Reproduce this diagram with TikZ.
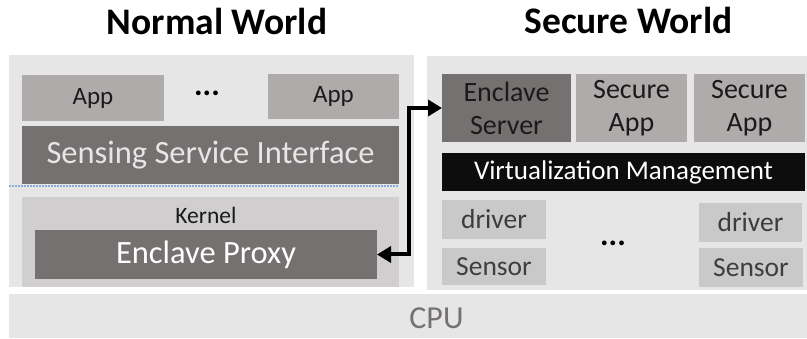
\documentclass[tikz,border=0pt]{standalone}
\usepackage{fontspec}
\setmainfont{Carlito}
\usetikzlibrary{arrows.meta}

\definecolor{panelgray}{HTML}{E6E6E6}
\definecolor{appgray}{HTML}{AFABAB}
\definecolor{darkbox}{HTML}{767171}
\definecolor{kernelgray}{HTML}{D0CECE}
\definecolor{drvgray}{HTML}{C9C9C9}
\definecolor{lighttext}{HTML}{E7E6E6}
\definecolor{inktext}{HTML}{1A1A1A}
\definecolor{softtext}{HTML}{3F3F3F}
\definecolor{divider}{HTML}{8FAADC}

\newcommand{\fsz}[2][0]{\fontsize{#2}{\ifnum#1=0 #2\else #1\fi}\selectfont}

\tikzset{
  block/.style={rectangle, inner sep=0pt, outer sep=0pt, align=center},
  panel/.style={block, fill=panelgray},
  appbox/.style={block, fill=appgray, text=inktext, font=\fsz{25}},
  twoline/.style={font=\fsz[33]{28}},
  darkblock/.style={block, fill=darkbox, text=lighttext, font=\fsz{32.5}},
  hwbox/.style={block, fill=drvgray, font=\fsz{27.5}},
  title/.style={inner sep=0pt, anchor=base, font=\bfseries\fsz{37.5}},
  dots/.style={inner sep=0pt, anchor=base, font=\bfseries\fsz{32}},
  link/.style={line width=4pt, {Triangle[length=14pt,width=16pt]}-{Triangle[length=14pt,width=16pt]}},
}

\begin{document}
\begin{tikzpicture}[x=1pt, y=-1pt]
\useasboundingbox (0,0) rectangle (807,339);

% world titles
\node[title] (nwtitle) at (217,35) {Normal World};
\node[title] (swtitle) at (628.5,34) {Secure World};

% world panels and the CPU bar
\node[panel, minimum width=405pt, minimum height=232pt] (normal) at (211.5,171) {};
\node[panel, minimum width=380pt, minimum height=234pt] (secure) at (617,173) {};
\node[panel, minimum width=798pt, minimum height=44pt] (cpu) at (408,316) {};
\node[inner sep=0pt, anchor=base, text=darkbox, font=\fsz{32}] (cputext) at (436.5,329) {CPU};

% normal world: user space
\node[appbox, minimum width=142pt, minimum height=46pt] (app1) at (93,98) {App};
\node[appbox, minimum width=131pt, minimum height=45pt] (app2) at (333.5,96.5) {App};
\node[dots] (ndots) at (207,96) {...};
\node[darkblock, minimum width=377pt, minimum height=58pt] (ssi) at (210.5,155) {Sensing Service Interface};
\coordinate (divl) at (9,186);
\coordinate (divr) at (399,186);
\draw[divider, line width=1.2pt, dash pattern=on 1.5pt off 1.5pt] (divl) -- (divr);

% normal world: kernel
\node[block, fill=kernelgray, minimum width=377pt, minimum height=90pt] (kernel) at (210.5,242) {};
\node[inner sep=0pt, anchor=base, font=\fsz{23.5}, text=inktext] (kernellabel) at (206,224) {Kernel};
\node[darkblock, minimum width=342pt, minimum height=49pt, text=white] (proxy) at (206,254.5) {Enclave Proxy};

% secure world: trusted applications
\node[block, twoline, fill=darkbox, text=inktext, minimum width=129pt, minimum height=68pt] (server) at (506.5,108) {Enclave\\Server};
\node[appbox, twoline, minimum width=111pt, minimum height=68pt] (sapp1) at (631.5,108) {Secure\\App};
\node[appbox, twoline, minimum width=111pt, minimum height=68pt] (sapp2) at (749.5,108) {Secure\\App};
\node[block, fill=black!95, text=white, font=\fsz{27}, minimum width=363pt, minimum height=38pt] (virt) at (623.5,172) {Virtualization Management};

% secure world: drivers and sensors
\node[hwbox, text=inktext!85, minimum width=104pt, minimum height=39pt] (drv1) at (494,219.5) {driver};
\node[hwbox, text=softtext, minimum width=104pt, minimum height=37pt] (sen1) at (494,266.5) {Sensor};
\node[hwbox, text=inktext!85, minimum width=103pt, minimum height=39pt] (drv2) at (750.5,222.5) {driver};
\node[hwbox, text=softtext, minimum width=104pt, minimum height=39pt] (sen2) at (751,267.5) {Sensor};
\node[dots] (sdots) at (613,246) {...};

% proxy <-> server channel
\coordinate (bend) at (409,180);
\draw[link] (proxy.east) -| (bend) |- (server.west);
\end{tikzpicture}
\end{document}
